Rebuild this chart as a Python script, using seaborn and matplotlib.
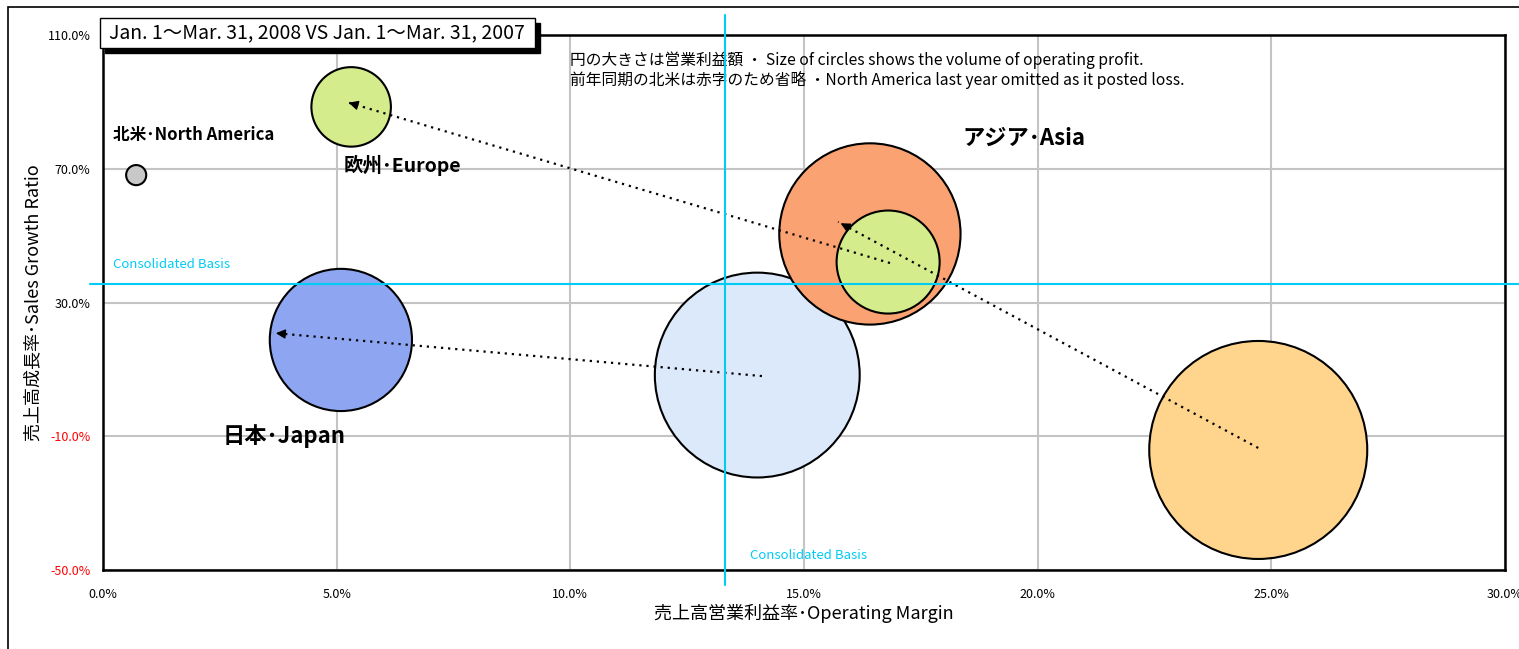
import numpy as np
import pandas as pd
import matplotlib.pyplot as plt
import matplotlib.patches as mpatches
from matplotlib.ticker import MultipleLocator, FixedLocator, FuncFormatter
import seaborn as sns

# =====================================================
# DATA
# =====================================================
bubble_keys = ["asia_prev", "japan_prev", "asia_cur", "europe_prev",
               "japan_cur", "europe_cur", "na_cur"]
op_margin = [24.72, 14.0, 16.41, 16.8, 5.09, 5.31, 0.71]        # %
sales_growth = [-14.1, 8.3, 50.5, 42.1, 18.8, 88.5, 68.1]        # %
op_profit = [94, 83, 65, 21, 40, 12.5, 0.8]                      # relative size
bubble_colors = ["#FFD58E", "#DCE9FA", "#FBA272", "#D4EC8C",
                 "#8EA6F1", "#D4EC8C", "#C8C8C8"]

# arrows: last year -> this year
arrow_from_x = [16.84, 24.72, 14.10]
arrow_from_y = [41.8, -13.5, 8.0]
arrow_to_x = [5.20, 15.73, 3.64]
arrow_to_y = [90.0, 54.1, 20.9]

region_labels = ["北米･North America", "欧州･Europe", "アジア･Asia", "日本･Japan"]
label_x = [0.21, 5.14, 18.38, 2.55]
label_y = [80.1, 71.1, 79.2, -9.9]
label_size = [12, 14, 16, 16]

consolidated_margin = 13.3
consolidated_growth = 35.5

y_major = [-50, -10, 30, 70, 110]

df = pd.DataFrame({"key": bubble_keys, "margin": op_margin,
                   "growth": sales_growth, "profit": op_profit})

# =====================================================
# FIGURE
# =====================================================
sns.set_style("white")
plt.rcParams['font.family'] = ['Noto Sans CJK JP', 'DejaVu Sans']
plt.rcParams['text.color'] = 'black'
plt.rcParams['axes.labelcolor'] = 'black'
plt.rcParams['xtick.color'] = 'black'
plt.rcParams['ytick.color'] = 'black'

W, H = 1519, 649
fig = plt.figure(figsize=(W / 100, H / 100), dpi=100)
ax = fig.add_axes([103 / W, 1 - 570 / H, 1402 / W, 535 / H])

# biggest bubble radius ~109 px -> marker diameter in points
max_d = 2 * 109 * 0.72
sns.scatterplot(data=df, x="margin", y="growth", hue="key",
                palette=dict(zip(bubble_keys, bubble_colors)),
                size="profit", sizes=(0, max_d ** 2),
                size_norm=(0, max(op_profit)),
                edgecolor="black", linewidth=1.5, alpha=1,
                legend=False, ax=ax, zorder=3)

# dotted arrows
for x0, y0, x1, y1 in zip(arrow_from_x, arrow_from_y, arrow_to_x, arrow_to_y):
    ax.plot([x0, x1], [y0, y1], color="black", lw=1.6,
            linestyle=(0, (1, 2.2)), zorder=4)
    dx, dy = x1 - x0, y1 - y0
    ax.annotate("", xy=(x1, y1), xytext=(x1 - dx * 0.02, y1 - dy * 0.02),
                arrowprops=dict(arrowstyle="-|>", color="black", lw=1,
                                mutation_scale=14), zorder=4)

# region labels
for txt, lx, ly, fs in zip(region_labels, label_x, label_y, label_size):
    ax.text(lx, ly, txt, fontsize=fs, fontweight="bold", ha="left",
            va="center", zorder=5)

# consolidated basis lines
cyan = "#00CCF5"
ax.plot([consolidated_margin, consolidated_margin], [116, -54.5],
        color=cyan, lw=1.5, clip_on=False, zorder=6)
ax.plot([-0.28, 31], [consolidated_growth, consolidated_growth],
        color=cyan, lw=1.5, clip_on=False, zorder=6)
ax.text(0.21, consolidated_growth + 6, "Consolidated Basis", color=cyan,
        fontsize=9.5, va="center", ha="left")
ax.text(consolidated_margin + 0.55, -45.8, "Consolidated Basis", color=cyan,
        fontsize=9.5, va="center", ha="left")

# notes
ax.text(10.0, 102.5, "円の大きさは営業利益額 ・ Size of circles shows the volume of operating profit.",
        fontsize=11.3, va="center", ha="left")
ax.text(10.0, 96.5, "前年同期の北米は赤字のため省略 ・North America last year omitted as it posted loss.",
        fontsize=11.3, va="center", ha="left")

# axes, ticks, grid
ax.set_xlim(0, 30)
ax.set_ylim(-50, 110)
ax.xaxis.set_major_locator(MultipleLocator(5))
ax.xaxis.set_minor_locator(MultipleLocator(1))
ax.yaxis.set_major_locator(FixedLocator(y_major))
ax.yaxis.set_minor_locator(MultipleLocator(10))
ax.xaxis.set_major_formatter(FuncFormatter(lambda v, p: f"{v:.1f}%"))
ax.yaxis.set_major_formatter(FuncFormatter(lambda v, p: f"{v:.1f}%"))
ax.tick_params(axis="x", which="both", direction="in", length=3, width=1.2,
               labelsize=9, pad=13)
ax.tick_params(axis="y", which="both", direction="in", length=3, width=1.2,
               labelsize=9, pad=9)
for lab in ax.get_yticklabels():
    if float(lab.get_position()[1]) < 0:
        lab.set_color("red")
ax.grid(True, which="major", color="#C4C4C4", lw=1.5)
ax.set_axisbelow(True)
for sp in ax.spines.values():
    sp.set_visible(True)
    sp.set_color("black")
    sp.set_linewidth(1.8)

ax.set_xlabel("売上高営業利益率･Operating Margin", fontsize=13, labelpad=2)
ax.set_ylabel("売上高成長率･Sales Growth Ratio", fontsize=13, labelpad=4)

# title box with shadow
fig.patches.append(mpatches.Rectangle((105 / W, 1 - 53 / H), 435 / W, 30 / H,
                                      transform=fig.transFigure, color="black",
                                      zorder=10))
fig.patches.append(mpatches.Rectangle((100 / W, 1 - 48 / H), 435 / W, 30 / H,
                                      transform=fig.transFigure, facecolor="white",
                                      edgecolor="black", lw=1, zorder=11))
fig.text(317 / W, 1 - 33 / H, "Jan. 1〜Mar. 31, 2008 VS Jan. 1〜Mar. 31, 2007",
         fontsize=14, ha="center", va="center", zorder=12)

# outer frame
fig.patches.append(mpatches.Rectangle((8 / W, -0.1), 1.2, 1.1 - 7 / H,
                                      transform=fig.transFigure, fill=False,
                                      edgecolor="black", lw=1.2, zorder=0))

fig.savefig("out.png", dpi=100)
